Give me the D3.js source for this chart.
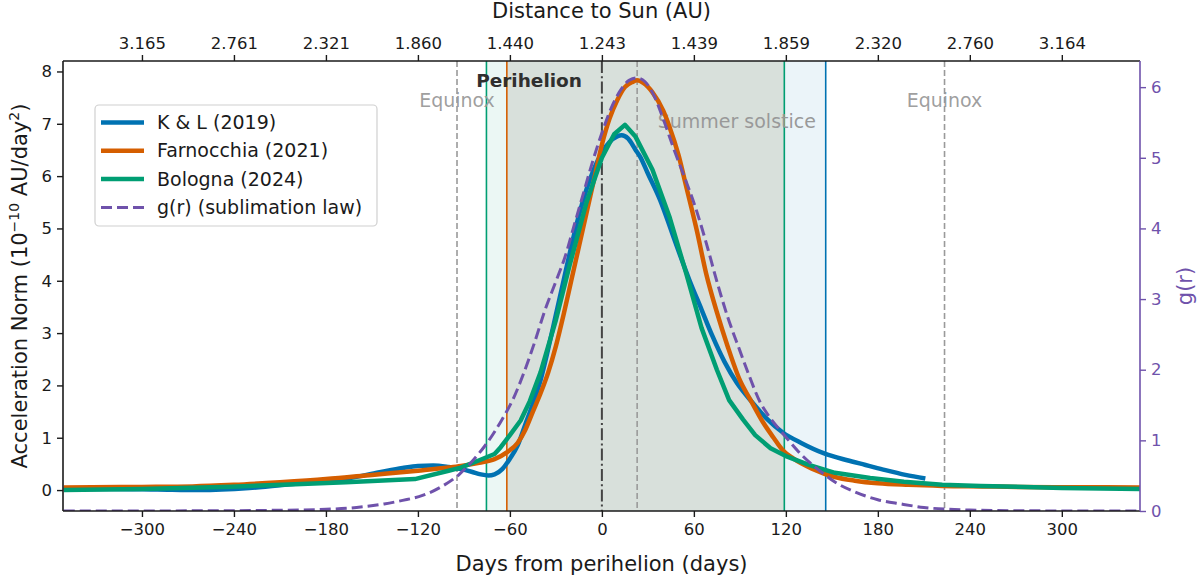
<!DOCTYPE html>
<html><head><meta charset="utf-8">
<script src="https://cdn.jsdelivr.net/npm/d3@7"></script>
<style>body{margin:0;background:#fff}svg{display:block}text{font-family:"DejaVu Sans",sans-serif}</style>
</head><body><div id="chart"></div>
<script>
// ---------------- data ----------------
const klDays = [-351,-320,-290,-262,-230,-200,-170,-145,-130,-120,-110,-100,-92,-85,-79,-74,-70,-65,-60,-55,-50,-45,-40,-35,-30,-25,-20,-15,-10,-5,0,5,10,13,17,22,25,30,38,45,49,57,65,72,80,88,98,108,118,130,145,160,172,185,198,211];
const klVals = [0.02,0.02,0.01,0.0,0.04,0.12,0.2,0.34,0.42,0.46,0.47,0.44,0.40,0.35,0.30,0.28,0.30,0.40,0.60,0.85,1.25,1.65,2.1,2.7,3.35,4.0,4.65,5.25,5.75,6.15,6.45,6.65,6.76,6.78,6.72,6.5,6.37,6.05,5.54,4.98,4.65,4.02,3.45,2.95,2.45,2.05,1.68,1.35,1.1,0.9,0.7,0.57,0.48,0.38,0.29,0.22];

const faDays = [-351,-300,-267,-240,-210,-180,-150,-120,-100,-92,-80,-70,-62,-55,-50,-45,-40,-35,-30,-25,-20,-15,-10,-5,0,5,10,15,20,23,27,33,40,44,50,55,62,68,75,82,90,97,105,112,118,125,137,152,165,180,200,222,250,272,300,351];
const faVals = [0.05,0.06,0.07,0.1,0.15,0.21,0.29,0.37,0.43,0.46,0.52,0.59,0.72,0.9,1.15,1.5,1.85,2.25,2.75,3.35,4.0,4.65,5.3,5.95,6.6,7.1,7.45,7.7,7.8,7.83,7.78,7.6,7.25,6.95,6.4,5.8,4.95,4.14,3.4,2.75,2.1,1.72,1.3,1.0,0.76,0.6,0.41,0.25,0.18,0.13,0.1,0.08,0.07,0.06,0.055,0.05];

const boDays = [-351,-300,-242,-200,-167,-122,-100,-92,-80,-70,-66,-60,-53,-47,-40,-30,-21,-10,0,8,15,22,33,44,55,65,75,83,92,100,110,120,135,152,175,197,222,247,300,351];
const boVals = [0.0,0.02,0.065,0.11,0.15,0.21,0.37,0.43,0.57,0.69,0.82,1.05,1.33,1.7,2.25,3.25,4.3,5.5,6.35,6.8,6.98,6.75,6.12,5.23,4.14,3.1,2.3,1.72,1.35,1.05,0.8,0.65,0.48,0.33,0.23,0.16,0.1,0.08,0.04,0.02];

const gDays = [-351,-300,-260,-220,-180,-160,-142,-130,-117,-105,-93,-84,-75,-65,-58,-51,-44,-37,-30,-24,-18,-12,-6,0,6,12,18,23,28,34,40,47,54,61,68,75,82,90,96,103,110,116,123,130,138,145,152,165,180,195,210,225,240,270,300,351];
const gVals = [0,0,0.003,0.008,0.024,0.05,0.1,0.15,0.22,0.34,0.52,0.72,0.96,1.3,1.58,1.95,2.38,2.85,3.25,3.6,4.05,4.5,4.95,5.35,5.7,5.95,6.1,6.13,6.08,5.88,5.55,5.12,4.72,4.3,3.8,3.25,2.75,2.27,1.92,1.55,1.31,1.15,0.97,0.8,0.64,0.52,0.41,0.27,0.16,0.1,0.05,0.025,0.013,0.004,0.001,0];

const seriesNames = ["K & L (2019)", "Farnocchia (2021)", "Bologna (2024)", "g(r) (sublimation law)"];
const seriesColors = ["#0072b2", "#d55e00", "#009e73", "#6f52ab"];

const xTicks = [-300,-240,-180,-120,-60,0,60,120,180,240,300];
const topTickLabels = ["3.165","2.761","2.321","1.860","1.440","1.243","1.439","1.859","2.320","2.760","3.164"];
const yTicks = [0,1,2,3,4,5,6,7,8];
const gTicks = [0,1,2,3,4,5,6];

// spans [start, end] for each fit (green, blue, orange)
const greenSpan = [-75.3, 119];
const blueSpan = [-62, 146];
const orangeSpan = [-62, 119];
const equinoxDays = [-94.5, 223.5];
const solsticeDay = 23;
const perihelionDay = 0;

// ---------------- layout ----------------
const W = 1200, H = 576;
const L = 63, R = 1140, T = 61, B = 511;
const svg = d3.select("#chart").append("svg").attr("width", W).attr("height", H);
svg.append("rect").attr("width", W).attr("height", H).attr("fill", "#fff");

const x = d3.scaleLinear().domain([-351.5, 351]).range([L, R]);
const y = d3.scaleLinear().domain([-0.4, 8.2]).range([B, T]);
const yg = d3.scaleLinear().domain([0, 6.37]).range([B, T]);

const defs = svg.append("defs");
defs.append("clipPath").attr("id","clip").append("rect").attr("x",L).attr("y",T).attr("width",R-L).attr("height",B-T);
const plot = svg.append("g").attr("clip-path","url(#clip)");

// shaded spans
[[greenSpan, seriesColors[2]], [blueSpan, seriesColors[0]], [orangeSpan, seriesColors[1]]].forEach(([s, c]) => {
  plot.append("rect").attr("x", x(s[0])).attr("y", T).attr("width", x(s[1]) - x(s[0])).attr("height", B - T)
    .attr("fill", c).attr("fill-opacity", 0.08);
});

// vertical lines
const vline = (d, color, w, dash) => plot.append("line").attr("x1", x(d)).attr("x2", x(d)).attr("y1", T).attr("y2", B)
  .attr("stroke", color).attr("stroke-width", w).attr("stroke-dasharray", dash || null);
equinoxDays.forEach(d => vline(d, "#9a9a9a", 1.6, "6,3"));
vline(solsticeDay, "#9a9a9a", 1.6, "6,3");
vline(perihelionDay, "#444", 2, "12,3.2,2,3.2");
vline(greenSpan[0], seriesColors[2], 1.6);
vline(greenSpan[1], seriesColors[2], 1.6);
vline(orangeSpan[0], seriesColors[1], 1.6);
vline(blueSpan[1], seriesColors[0], 1.6);

// annotations
plot.append("text").attr("x", x(-47.5)).attr("y", 87).attr("text-anchor","middle").attr("font-weight","bold")
  .attr("font-size", 18.5).attr("fill","#2f2f2f").text("Perihelion");
equinoxDays.forEach(d => plot.append("text").attr("x", x(d)).attr("y", 107).attr("text-anchor","middle")
  .attr("font-size", 19).attr("fill","#999").attr("fill-opacity",0.95).text("Equinox"));
plot.append("text").attr("x", x(88)).attr("y", 128).attr("text-anchor","middle")
  .attr("font-size", 19).attr("fill","#999").text("Summer solstice");

// curves
const mk = (days, vals) => days.map((d, i) => [d, vals[i]]);
const lineMono = d3.line().x(d => x(d[0])).y(d => y(d[1])).curve(d3.curveMonotoneX);
const lineLin = d3.line().x(d => x(d[0])).y(d => y(d[1])).curve(d3.curveLinear);
const lineG = d3.line().x(d => x(d[0])).y(d => yg(d[1])).curve(d3.curveMonotoneX);

plot.append("path").attr("d", lineMono(mk(klDays, klVals))).attr("fill","none").attr("stroke", seriesColors[0]).attr("stroke-width", 4.5);
plot.append("path").attr("d", lineMono(mk(faDays, faVals))).attr("fill","none").attr("stroke", seriesColors[1]).attr("stroke-width", 4.5).attr("stroke-linejoin","round");
plot.append("path").attr("d", lineLin(mk(boDays, boVals))).attr("fill","none").attr("stroke", seriesColors[2]).attr("stroke-width", 4.5).attr("stroke-linejoin","round");
plot.append("path").attr("d", lineG(mk(gDays, gVals))).attr("fill","none").attr("stroke", seriesColors[3]).attr("stroke-width", 3).attr("stroke-dasharray","11,5");

// axes
const fs = 16.5;
const gx = svg.append("g").attr("transform", `translate(0,${B})`)
  .call(d3.axisBottom(x).tickValues(xTicks).tickSize(6).tickPadding(6).tickFormat(d => d < 0 ? "\u2212" + Math.abs(d) : d));
const gxt = svg.append("g").attr("transform", `translate(0,${T})`)
  .call(d3.axisTop(x).tickValues(xTicks).tickSize(6).tickPadding(6).tickFormat((d, i) => topTickLabels[i]));
const gy = svg.append("g").attr("transform", `translate(${L},0)`)
  .call(d3.axisLeft(y).tickValues(yTicks).tickSize(6).tickPadding(5).tickFormat(d3.format("d")));
const gyr = svg.append("g").attr("transform", `translate(${R},0)`)
  .call(d3.axisRight(yg).tickValues(gTicks).tickSize(6).tickPadding(5).tickFormat(d3.format("d")));
[gx, gxt, gy, gyr].forEach(g => {
  g.selectAll("text").attr("font-size", fs).attr("font-family", '"DejaVu Sans",sans-serif').attr("fill", "#1a1a1a");
  g.selectAll("line").attr("stroke", "#1a1a1a").attr("stroke-width", 1.4);
  g.select(".domain").remove();
});
gyr.selectAll("text").attr("fill", seriesColors[3]);
gyr.selectAll("line").attr("stroke", seriesColors[3]);

// spines
svg.append("line").attr("x1",L).attr("x2",R).attr("y1",T).attr("y2",T).attr("stroke","#1a1a1a").attr("stroke-width",1.6);
svg.append("line").attr("x1",L).attr("x2",R).attr("y1",B).attr("y2",B).attr("stroke","#1a1a1a").attr("stroke-width",1.6);
svg.append("line").attr("x1",L).attr("x2",L).attr("y1",T).attr("y2",B).attr("stroke","#1a1a1a").attr("stroke-width",1.6);
svg.append("line").attr("x1",R).attr("x2",R).attr("y1",T).attr("y2",B).attr("stroke",seriesColors[3]).attr("stroke-width",1.6);

// axis titles
svg.append("text").attr("x", (L+R)/2).attr("y", 571).attr("text-anchor","middle").attr("font-size", 21).attr("fill","#1a1a1a")
  .text("Days from perihelion (days)");
svg.append("text").attr("x", (L+R)/2).attr("y", 18).attr("text-anchor","middle").attr("font-size", 21).attr("fill","#1a1a1a")
  .text("Distance to Sun (AU)");
const yl = svg.append("text").attr("transform", `translate(27,${(T+B)/2}) rotate(-90)`).attr("text-anchor","middle")
  .attr("font-size", 21).attr("fill","#1a1a1a");
yl.append("tspan").text("Acceleration Norm (10");
yl.append("tspan").attr("font-size", 14).attr("dy", -8).text("\u221210");
yl.append("tspan").attr("dy", 8).text(" AU/day");
yl.append("tspan").attr("font-size", 14).attr("dy", -8).text("2");
yl.append("tspan").attr("dy", 8).text(")");
svg.append("text").attr("transform", `translate(1192,${(T+B)/2}) rotate(-90)`).attr("text-anchor","middle")
  .attr("font-size", 21).attr("fill", seriesColors[3]).text("g(r)");

// legend
const lg = svg.append("g");
lg.append("rect").attr("x", 95).attr("y", 105).attr("width", 282).attr("height", 121).attr("rx", 4)
  .attr("fill", "#fff").attr("fill-opacity", 0.85).attr("stroke", "#d0d0d0").attr("stroke-width", 1.2);
seriesNames.forEach((n, i) => {
  const yy = 122.5 + i * 28.3;
  const ln = lg.append("line").attr("x1", 101).attr("x2", 144).attr("y1", yy).attr("y2", yy)
    .attr("stroke", seriesColors[i]).attr("stroke-width", i < 3 ? 4.5 : 3);
  if (i === 3) ln.attr("stroke-dasharray", "11,5");
  lg.append("text").attr("x", 157).attr("y", yy + 6.5).attr("font-size", 19).attr("fill", "#1a1a1a").text(n);
});
</script></body></html>
